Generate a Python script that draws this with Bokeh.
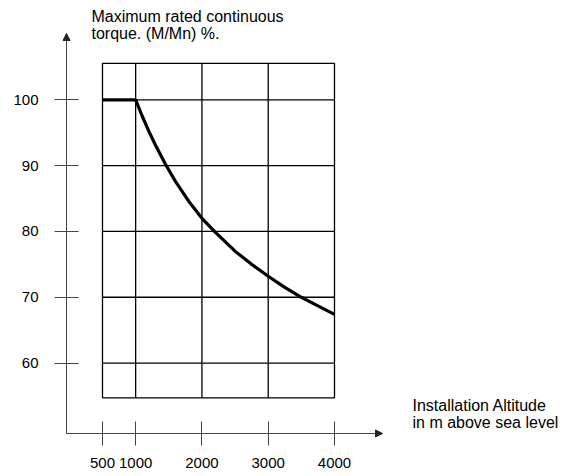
from bokeh.plotting import figure
from bokeh.models import FixedTicker, Label, Arrow, NormalHead, Range1d, LinearAxis
from bokeh.embed import file_html
from bokeh.resources import INLINE

# ---- data ----
altitude_ticks = [500, 1000, 2000, 3000, 4000]
torque_ticks = [60, 70, 80, 90, 100]
grid_altitudes = [1000, 2000, 3000]
box_altitude = [500, 4000]
box_torque = [54.73, 105.52]

curve_altitude = [500, 1000, 1100, 1200, 1300, 1450, 1600, 1800, 2000, 2200,
                  2500, 2750, 3000, 3250, 3500, 3750, 4000]
curve_torque = [100, 100, 97.5, 95.2, 93.1, 90.2, 87.6, 84.6, 82.0, 79.9,
                77.0, 75.0, 73.2, 71.5, 70.0, 68.7, 67.4]

y_title = ["Maximum rated continuous", "torque. (M/Mn) %."]
x_title = ["Installation Altitude", "in m above sea level"]

FONT = "Liberation Sans"

# axis extents (data units)
ax_x0, ax_x1 = -43.1, 4724.1
ax_y0, ax_y1 = 49.305, 110.07

p = figure(width=567, height=476, output_backend="svg", toolbar_location=None,
           x_range=Range1d(-1038.8, 7515.1), y_range=Range1d(42.772, 115.085),
           x_axis_type=None, y_axis_type=None,
           min_border=0)
p.outline_line_color = None
p.background_fill_color = "white"
p.border_fill_color = "white"

xaxis = LinearAxis(fixed_location=ax_y0, bounds=(ax_x0, ax_x1))
yaxis = LinearAxis(fixed_location=ax_x0, bounds=(ax_y0, ax_y1))
p.add_layout(xaxis, "below")
p.add_layout(yaxis, "left")

for ax, ticks in ((xaxis, altitude_ticks), (yaxis, torque_ticks)):
    ax.ticker = FixedTicker(ticks=ticks)
    ax.major_tick_in = 12
    ax.major_tick_out = 12
    ax.minor_tick_line_color = None
    ax.axis_line_color = "#444444"
    ax.axis_line_width = 1
    ax.major_tick_line_color = "#444444"
    ax.major_tick_line_width = 1
    ax.major_label_text_font = FONT
    ax.major_label_text_font_size = "15px"
    ax.major_label_text_color = "black"
xaxis.major_label_standoff = 13
yaxis.major_label_standoff = 16

# grid box
p.quad(left=[box_altitude[0]], right=[box_altitude[1]], bottom=[box_torque[0]],
       top=[box_torque[1]], fill_color=None, line_color="black", line_width=1.3)
p.segment(x0=[box_altitude[0]] * len(torque_ticks), x1=[box_altitude[1]] * len(torque_ticks),
          y0=torque_ticks, y1=torque_ticks, line_color="black", line_width=1.3)
p.segment(x0=grid_altitudes, x1=grid_altitudes, y0=[box_torque[0]] * len(grid_altitudes),
          y1=[box_torque[1]] * len(grid_altitudes), line_color="black", line_width=1.3)

# curve
p.line(curve_altitude, curve_torque, line_color="black", line_width=3.2)

# axis arrows
p.add_layout(Arrow(end=NormalHead(size=7, fill_color="#222222", line_color="#222222"),
                   x_start=ax_x0, y_start=ax_y1 - 2, x_end=ax_x0, y_end=ax_y1, line_alpha=0))
p.add_layout(Arrow(end=NormalHead(size=7, fill_color="#222222", line_color="#222222"),
                   x_start=ax_x1 - 100, y_start=ax_y0, x_end=ax_x1, y_end=ax_y0, line_alpha=0))

# titles (baselines at ~16px and ~33px from top; ~405px and ~422px)
for txt, yy in zip(y_title, [112.65, 110.07]):
    p.add_layout(Label(x=334, y=yy, text=txt, text_font=FONT, text_font_size="16px",
                       text_color="black", text_baseline="alphabetic", text_align="left"))
for txt, yy in zip(x_title, [53.56, 50.98]):
    p.add_layout(Label(x=5176.7, y=yy, text=txt, text_font=FONT, text_font_size="16px",
                       text_color="black", text_baseline="alphabetic", text_align="left"))

open("out.html", "w").write(file_html(p, INLINE))
